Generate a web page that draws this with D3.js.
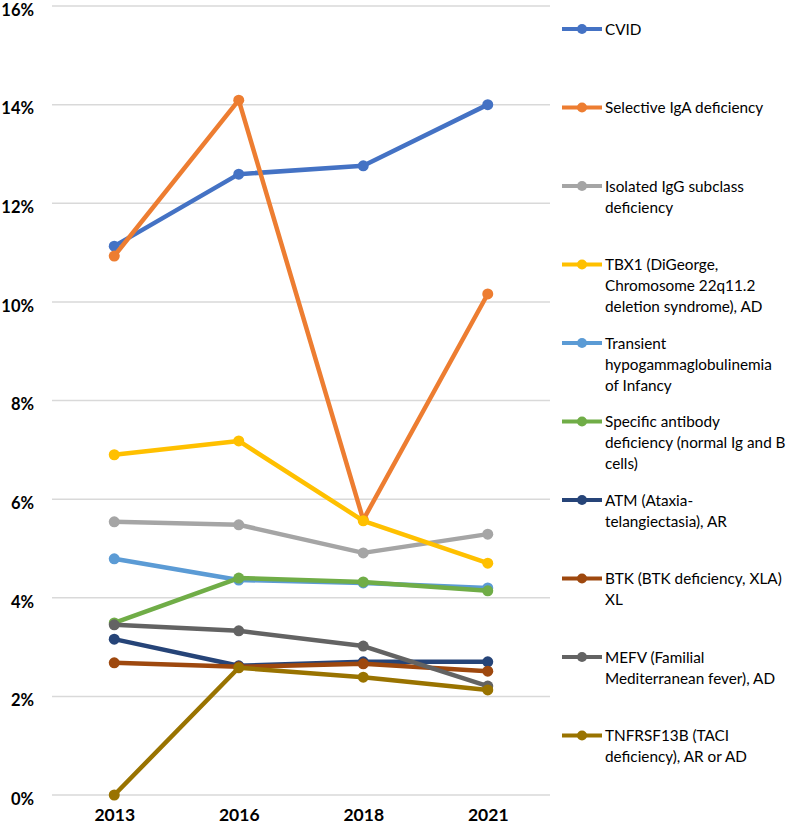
<!DOCTYPE html>
<html><head><meta charset="utf-8">
<script src="https://cdn.jsdelivr.net/npm/d3@7"></script>
<style>body{margin:0;background:#fff}svg{display:block}</style>
</head><body>
<script>
const years = ["2013","2016","2018","2021"];
const yTicks = [0,2,4,6,8,10,12,14,16];
const seriesNames = [
  ["CVID"],
  ["Selective IgA deficiency"],
  ["Isolated IgG subclass","deficiency"],
  ["TBX1 (DiGeorge,","Chromosome 22q11.2","deletion syndrome), AD"],
  ["Transient","hypogammaglobulinemia","of Infancy"],
  ["Specific antibody","deficiency (normal Ig and B","cells)"],
  ["ATM (Ataxia-","telangiectasia), AR"],
  ["BTK (BTK deficiency, XLA)","XL"],
  ["MEFV (Familial","Mediterranean fever), AD"],
  ["TNFRSF13B (TACI","deficiency), AR or AD"]
];
const colors = ["#4472C4","#ED7D31","#A5A5A5","#FFC000","#5B9BD5","#70AD47","#264478","#9E480E","#636363","#997300"];
const cvid      = [11.13,12.59,12.76,14.00];
const iga       = [10.93,14.09,5.58,10.16];
const igg       = [5.54,5.48,4.91,5.29];
const tbx1      = [6.90,7.18,5.56,4.70];
const transient = [4.79,4.36,4.30,4.20];
const specific  = [3.49,4.40,4.32,4.14];
const atm       = [3.16,2.62,2.70,2.70];
const btk       = [2.68,2.60,2.66,2.51];
const mefv      = [3.45,3.33,3.02,2.21];
const tnfrsf13b = [0.00,2.58,2.39,2.13];
const values = [cvid,iga,igg,tbx1,transient,specific,atm,btk,mefv,tnfrsf13b];

const W=797,H=831;
const svg=d3.select("body").append("svg").attr("width",W).attr("height",H);
const x=d3.scalePoint().domain(years).range([52,550]).padding(0.5);
const y=d3.scaleLinear().domain([0,16]).range([795,6]);
const font="Lato, 'Open Sans', sans-serif";

// grid
svg.append("g").selectAll("line").data(yTicks).join("line")
  .attr("x1",52).attr("x2",550).attr("y1",d=>y(d)).attr("y2",d=>y(d))
  .attr("stroke","#d9d9d9").attr("stroke-width",1.5);

// y axis
const ya=svg.append("g").attr("transform","translate(46,4)")
  .call(d3.axisLeft(y).tickValues(yTicks).tickFormat(d=>d+"%").tickSize(0).tickPadding(12));
ya.select(".domain").remove();
ya.selectAll("text").attr("font-family",font).attr("font-weight","bold").attr("font-size",16.5).attr("fill","#000");

// x axis
const xa=svg.append("g").attr("transform","translate(0,796)")
  .call(d3.axisBottom(x).tickSize(0).tickPadding(13));
xa.select(".domain").remove();
xa.selectAll("text").attr("font-family",font).attr("font-weight","bold").attr("font-size",17.5).attr("fill","#000");

const line=d3.line().x((d,i)=>x(years[i])).y(d=>y(d));
values.forEach((vals,k)=>{
  const g=svg.append("g");
  g.append("path").attr("d",line(vals)).attr("fill","none").attr("stroke",colors[k])
    .attr("stroke-width",4.5).attr("stroke-linejoin","round");
  g.selectAll("circle").data(vals).join("circle")
    .attr("cx",(d,i)=>x(years[i])).attr("cy",d=>y(d)).attr("r",5.5).attr("fill",colors[k]);
});

// legend
const lg=svg.append("g");
seriesNames.forEach((lines,k)=>{
  const ly=29+k*78.5;
  lg.append("line").attr("x1",562).attr("x2",602).attr("y1",ly).attr("y2",ly)
    .attr("stroke",colors[k]).attr("stroke-width",4);
  lg.append("circle").attr("cx",582).attr("cy",ly).attr("r",5).attr("fill",colors[k]);
  const t=lg.append("text").attr("x",605).attr("y",ly)
    .attr("font-family",font).attr("font-size",15.3).attr("fill","#000");
  lines.forEach((s,j)=>t.append("tspan").attr("x",605).attr("dy",j===0?"0.36em":21).text(s));
});
</script>
</body></html>
